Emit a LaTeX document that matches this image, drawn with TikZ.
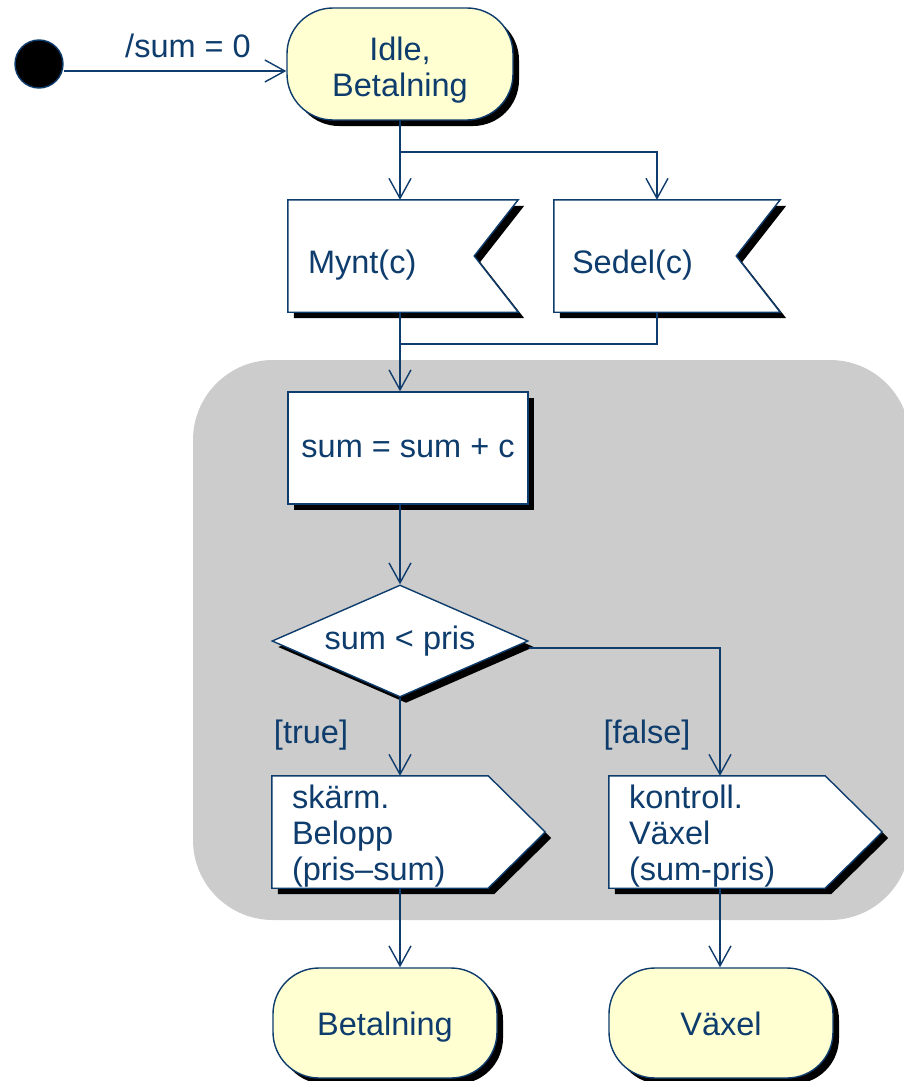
\documentclass[tikz,border=0pt]{standalone}
\usepackage{fontspec}
\setmainfont{Liberation Sans}
\usetikzlibrary{arrows.meta,shadows,shapes.geometric,calc}
\definecolor{ink}{HTML}{0E3C6C}
\definecolor{statefill}{HTML}{FFFFD2}
\definecolor{region}{HTML}{CCCCCC}
\pgfdeclarelayer{back}
\pgfdeclarelayer{mid}
\pgfsetlayers{back,mid,main}

\begin{document}
\begin{tikzpicture}[x=1pt,y=-1pt,
  every node/.style={text=ink, font=\fontsize{32.5}{36}\selectfont},
  shade/.style={drop shadow={shadow xshift=6pt,shadow yshift=-6pt,opacity=1,fill=black}},
  line/.style={draw=ink, line width=1.4pt},
  arr/.style={line, -{Straight Barb[length=20pt,width=22pt]}},
  state/.style={draw=ink, line width=1.4pt, fill=statefill, rounded corners=46pt,
    minimum height=112pt, align=center, inner sep=0pt, shade},
  initial/.style={circle, fill=black, draw=ink, line width=1.4pt, minimum size=48pt, inner sep=0pt},
  action/.style={rectangle, draw=ink, line width=1.4pt, fill=white, minimum width=240pt,
    minimum height=112pt, shade},
  choice/.style={diamond, draw=ink, line width=1.4pt, fill=white, aspect=2.3,
    minimum width=256pt, minimum height=112pt, inner sep=0pt, shade},
  recvbox/.style={minimum height=112pt, text width=190pt, inner xsep=#1, inner ysep=0pt,
    text height=42pt, text depth=7pt, align=left},
  sendbox/.style={minimum height=112pt, text width=233pt, inner xsep=20pt, inner ysep=0pt,
    text height=31pt, align=left},
  guard/.style={inner sep=0pt}
]
\useasboundingbox (0,0) rectangle (903,1081);

% region holding the payment handling
\begin{pgfonlayer}{back}
  \fill[region, rounded corners=80pt] (193,360) rectangle (910,920);
\end{pgfonlayer}

% states and actions
\node[initial] (init) at (39,64) {};
\node[state, minimum width=226pt, text height=71.5pt] (idle) at (400,64) {Idle,\\Betalning};
\node[recvbox=20pt] (mynt) at (403,256) {Mynt(c)};
\node[recvbox=18pt] (sedel) at (667,256) {Sedel(c)};
\node[action] (act) at (408,448) {sum = sum + c};
\node[choice] (dec) at (400,641) {sum < pris};
\node[sendbox] (skarm) at (408.5,832) {sk\"arm.\\Belopp\\(pris--sum)};
\node[sendbox] (kontr) at (745.5,832) {kontroll.\\V\"axel\\(sum-pris)};
\node[state, minimum width=224pt, minimum height=110pt, text height=32pt, text depth=7pt] (betal) at (385,1023) {Betalning};
\node[state, minimum width=224pt, minimum height=110pt, text height=32pt, text depth=7pt] (vaxel) at (721,1023) {V\"axel};

% signal outlines drawn beneath their texts
\begin{pgfonlayer}{mid}
  \foreach \n in {mynt,sedel}{
    \foreach \d/\col/\dr in {6pt/black/none,0pt/white/ink}{
      \path[fill=\col, draw=\dr, line width=1.4pt, line join=miter]
        ([shift={(\d,-\d)}]\n.north west) -- ([shift={(\d,-\d)}]\n.north east)
        -- ([shift={(\d-44pt,-\d)}]\n.east) -- ([shift={(\d,-\d)}]\n.south east)
        -- ([shift={(\d,-\d)}]\n.south west) -- cycle;
    }
  }
  \foreach \n in {skarm,kontr}{
    \foreach \d/\col/\dr in {6pt/black/none,0pt/white/ink}{
      \path[fill=\col, draw=\dr, line width=1.4pt, line join=miter]
        ([shift={(\d,-\d)}]\n.north west) -- ([shift={(\d-57pt,-\d)}]\n.north east)
        -- ([shift={(\d,-\d)}]\n.east) -- ([shift={(\d-57pt,-\d)}]\n.south east)
        -- ([shift={(\d,-\d)}]\n.south west) -- cycle;
    }
  }
\end{pgfonlayer}

% branch points
\coordinate (fork) at (400,152);
\coordinate (forkr) at (657,152);
\coordinate (join) at (400,344);
\coordinate (joinr) at (657,344);
\coordinate (falsecol) at (720,648);

% transitions
\draw[arr] ([yshift=-7pt]init.east) -- node[guard, above=12pt, xshift=13pt] {/sum = 0} ([yshift=-7pt]idle.west);
\draw[arr] (idle.south) -- (fork |- mynt.north);
\draw[arr] (fork) -- (forkr) -- (forkr |- sedel.north);
\draw[line] (forkr |- sedel.south) -- (joinr) -- (join);
\draw[arr] (join |- mynt.south) -- (join |- act.north);
\draw[arr] (join |- act.south) -- (dec.north);
\draw[arr] (dec.south) -- (dec.south |- skarm.north);
\draw[arr] ([yshift=-7pt]dec.east) -- (falsecol) -- (falsecol |- kontr.north);
\draw[arr] (dec.south |- skarm.south) -- (dec.south |- betal.north);
\draw[arr] (falsecol |- kontr.south) -- (falsecol |- vaxel.north);

% guards
\node[guard] (gtrue) at (311,735) {[true]};
\node[guard] (gfalse) at (647,735) {[false]};
\end{tikzpicture}
\end{document}
